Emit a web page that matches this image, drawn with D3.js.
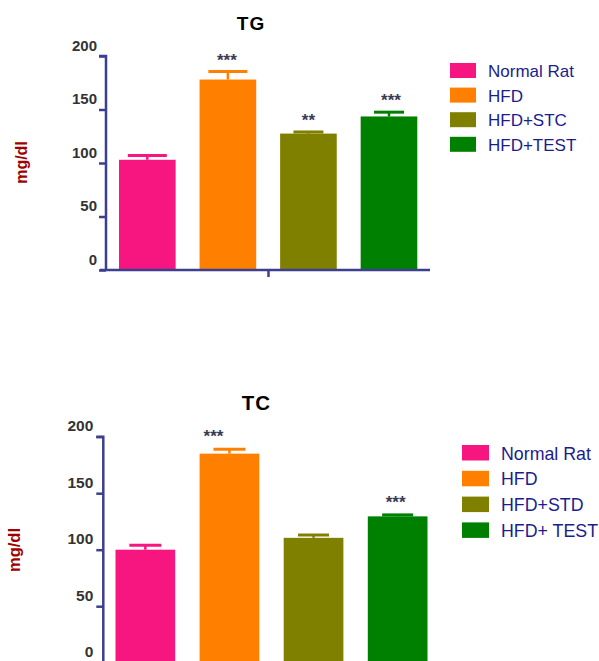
<!DOCTYPE html>
<html>
<head>
<meta charset="utf-8">
<script src="https://cdn.jsdelivr.net/npm/d3@7"></script>
<style>
  html, body { margin: 0; padding: 0; background: #fff; }
  svg { display: block; }
</style>
</head>
<body>
<svg id="chart" width="599" height="661"></svg>
<script>
// ---- Data ----
const tgGroups = ["Normal Rat", "HFD", "HFD+STC", "HFD+TEST"];
const tgMeans  = [103, 178, 127.5, 143.5];
const tgErrors = [4, 7.5, 1.5, 4];
const tgSig    = ["", "***", "**", "***"];

const tcGroups = ["Normal Rat", "HFD", "HFD+STD", "HFD+ TEST"];
const tcMeans  = [100, 185, 110.5, 129.5];
const tcErrors = [4, 4, 2.5, 1.3];
const tcSig    = ["", "***", "", "***"];

const yTicks = [0, 50, 100, 150, 200];
const barColors = ["#f7167f", "#ff8000", "#808000", "#008000"];

// ---- Styles ----
const axisColor = "#3c3f8f";
const tickLabelColor = "#333333";
const legendTextColor = "#1c1c8c";
const yLabelColor = "#a00000";
const starColor = "#3a3a55";

const svg = d3.select("#chart");

function drawChart(cfg) {
  const g = svg.append("g");
  const x = d3.scaleBand().domain(cfg.groups).range(cfg.xRange).paddingInner(cfg.padInner).paddingOuter(0);
  const y = d3.scaleLinear().domain([0, 200]).range(cfg.yRange);

  // bars
  g.selectAll("rect.bar").data(cfg.groups).join("rect")
    .attr("class", "bar")
    .attr("x", d => x(d))
    .attr("width", x.bandwidth())
    .attr("y", (d, i) => y(cfg.means[i]))
    .attr("height", (d, i) => y(0) - y(cfg.means[i]))
    .attr("fill", (d, i) => barColors[i]);

  // error bars
  cfg.groups.forEach((d, i) => {
    const cx = x(d) + x.bandwidth() / 2;
    const top = y(cfg.means[i] + cfg.errors[i]);
    g.append("line")
      .attr("x1", cx).attr("x2", cx)
      .attr("y1", y(cfg.means[i])).attr("y2", top)
      .attr("stroke", barColors[i]).attr("stroke-width", 2.5);
    g.append("line")
      .attr("x1", cx - cfg.capW[i] / 2).attr("x2", cx + cfg.capW[i] / 2)
      .attr("y1", top).attr("y2", top)
      .attr("stroke", barColors[i]).attr("stroke-width", 3);
    if (cfg.sig[i]) {
      g.append("text")
        .attr("x", cx + cfg.starDx[i])
        .attr("y", top - cfg.starGap + 9)
        .attr("text-anchor", "middle")
        .attr("font-family", "Liberation Sans, Arial, sans-serif")
        .attr("font-weight", "bold")
        .attr("font-size", 17)
        .attr("fill", starColor)
        .text(cfg.sig[i]);
    }
  });

  // y axis
  const yAxis = d3.axisLeft(y).tickValues(yTicks).tickSize(7).tickPadding(0).tickFormat(d3.format("d"));
  const ya = g.append("g").attr("transform", `translate(${cfg.axisX},0)`).call(yAxis);
  ya.select(".domain").attr("stroke", axisColor).attr("stroke-width", 2.5)
    .attr("d", `M-7,${y(200)}H0V${cfg.yAxisBottom}`);
  ya.selectAll(".tick line").attr("stroke", axisColor).attr("stroke-width", 2.5);
  ya.selectAll(".tick text")
    .attr("x", -cfg.labelGap)
    .attr("dy", 0)
    .attr("y", cfg.labelDy)
    .attr("fill", tickLabelColor)
    .attr("font-family", "Liberation Sans, Arial, sans-serif")
    .attr("font-weight", "bold")
    .attr("font-size", cfg.tickFs);

  // x axis line
  if (cfg.xAxis) {
    g.append("path")
      .attr("d", `M${cfg.xAxis[0]},${y(0)}H${cfg.xAxis[1]}`)
      .attr("stroke", axisColor).attr("stroke-width", 2.5).attr("fill", "none");
    g.append("line")
      .attr("x1", cfg.xAxis[2]).attr("x2", cfg.xAxis[2])
      .attr("y1", y(0)).attr("y2", y(0) + 7)
      .attr("stroke", axisColor).attr("stroke-width", 2.5);
  }

  // title
  g.append("text")
    .attr("x", cfg.title[1]).attr("y", cfg.title[2])
    .attr("text-anchor", "middle")
    .attr("font-family", "Liberation Sans, Arial, sans-serif")
    .attr("font-weight", "bold")
    .attr("font-size", cfg.title[3])
    .attr("letter-spacing", 1)
    .attr("fill", "#000")
    .text(cfg.title[0]);

  // y label
  g.append("text")
    .attr("transform", `translate(${cfg.yLabel[0]},${cfg.yLabel[1]}) rotate(-90)`)
    .attr("text-anchor", "middle")
    .attr("dy", "0.35em")
    .attr("font-family", "Liberation Sans, Arial, sans-serif")
    .attr("font-weight", "bold")
    .attr("font-size", cfg.yLabel[2])
    .attr("fill", yLabelColor)
    .text("mg/dl");

  // legend
  const lg = g.append("g");
  cfg.groups.forEach((d, i) => {
    const ty = cfg.legend.y0 + i * cfg.legend.step;
    lg.append("rect")
      .attr("x", cfg.legend.x).attr("y", ty)
      .attr("width", cfg.legend.w).attr("height", cfg.legend.h)
      .attr("fill", barColors[i]);
    lg.append("text")
      .attr("x", cfg.legend.tx).attr("y", ty + cfg.legend.h - 1)
      .attr("font-family", "Liberation Sans, Arial, sans-serif")
      .attr("font-size", cfg.legend.fs)
      .attr("fill", legendTextColor)
      .text(d);
  });
}

drawChart({
  groups: tgGroups, means: tgMeans, errors: tgErrors, sig: tgSig,
  xRange: [119, 417.3], padInner: 0.297,
  yRange: [270, 56], axisX: 106, yAxisBottom: 270,
  labelGap: 9, labelDy: -6, tickFs: 15,
  capW: [39, 39, 30, 30], starDx: [0, -1, 0, 2], starGap: 15,
  xAxis: [100, 430, 268.5],
  title: ["TG", 251, 30, 19],
  yLabel: [21.5, 162.5, 16],
  legend: { x: 450, y0: 63, step: 24.6, w: 26, h: 15, tx: 488, fs: 17 }
});

drawChart({
  groups: tcGroups, means: tcMeans, errors: tcErrors, sig: tcSig,
  xRange: [115.5, 427.5], padInner: 0.29,
  yRange: [662.7, 436.7], axisX: 103.3, yAxisBottom: 670,
  labelGap: 10, labelDy: -6, tickFs: 15.5,
  capW: [32, 32, 31, 31], starDx: [0, -16, 0, -2], starGap: 16,
  xAxis: null,
  title: ["TC", 256.5, 410, 20.5],
  yLabel: [14, 550, 16.5],
  legend: { x: 462, y0: 445, step: 25.8, w: 27, h: 15.5, tx: 501, fs: 17.8 }
});
</script>
</body>
</html>
